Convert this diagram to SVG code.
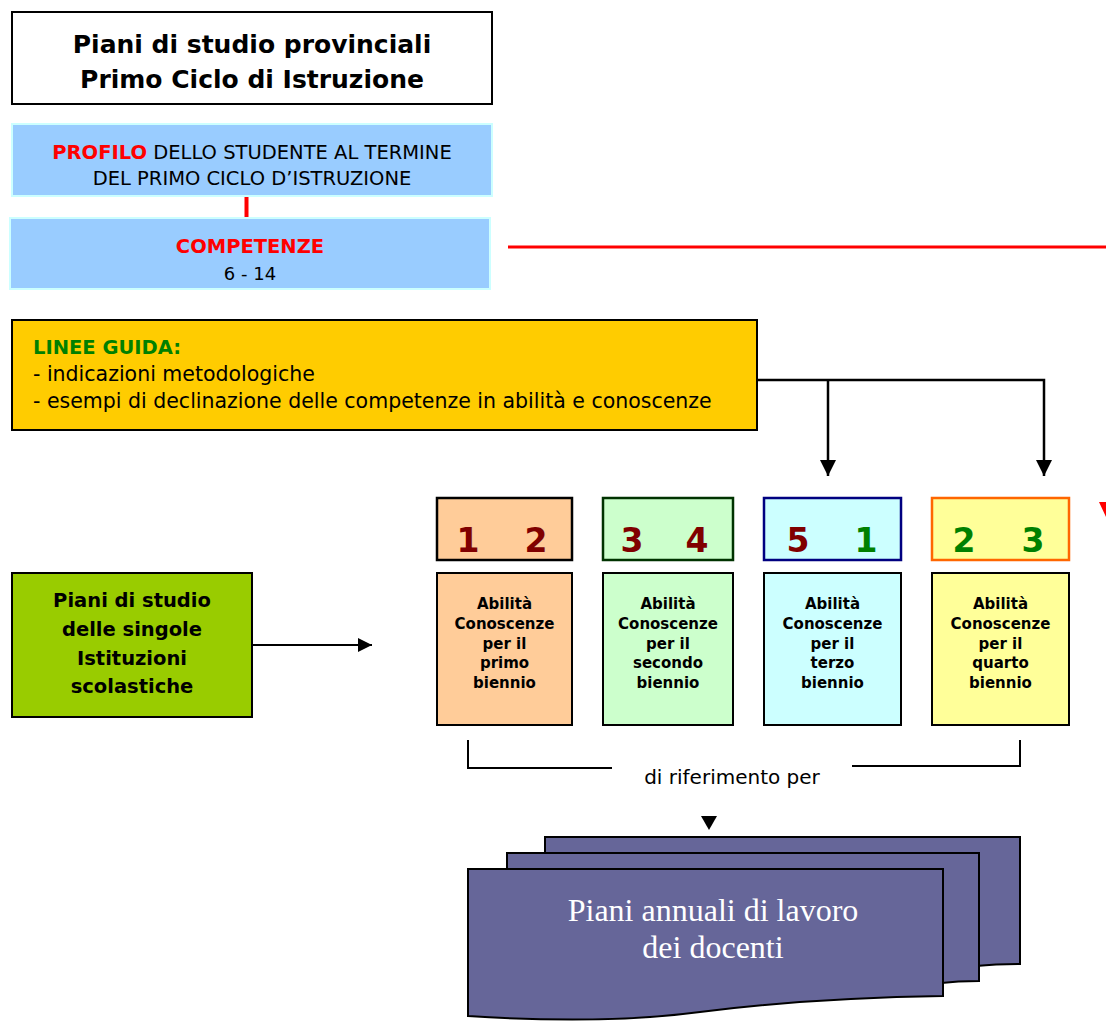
<svg xmlns="http://www.w3.org/2000/svg" width="1106" height="1022" viewBox="0 0 1106 1022">
<defs>
<style>
.g{font-family:"DejaVu Sans","Liberation Sans",sans-serif}
.b{font-weight:bold}
.c{text-anchor:middle}
.ab{font-family:"DejaVu Sans",sans-serif;font-weight:bold;font-size:15px;text-anchor:middle;fill:#000}
.num{font-family:"DejaVu Sans",sans-serif;font-weight:bold;font-size:33px;text-anchor:middle}
.ln{fill:none;stroke:#000;stroke-width:2.5}
.doc{fill:#666699;stroke:#000;stroke-width:2}
</style>
<marker id="ah" viewBox="0 0 10 10" refX="10" refY="5" markerWidth="6.5" markerHeight="6.5" markerUnits="strokeWidth" orient="auto">
<path d="M0,0 L10,5 L0,10 Z" fill="#000"/>
</marker>
<marker id="ah2" viewBox="0 0 10 10" refX="10" refY="5" markerWidth="8.5" markerHeight="7" markerUnits="strokeWidth" orient="auto">
<path d="M0,0 L10,5 L0,10 Z" fill="#000"/>
</marker>
</defs>
<rect width="1106" height="1022" fill="#fff"/>

<g id="connectors">
<line x1="246.5" y1="196" x2="246.5" y2="218" stroke="#ff0000" stroke-width="4"/>
<line x1="508" y1="247" x2="1106" y2="247" stroke="#ff0000" stroke-width="3"/>
<polygon points="1099,502 1113,502 1106,517" fill="#ff0000"/>
<polyline class="ln" points="757,380 1044,380 1044,476" marker-end="url(#ah)"/>
<line class="ln" x1="828" y1="380" x2="828" y2="476" marker-end="url(#ah)"/>
<line x1="252" y1="645" x2="372" y2="645" stroke="#000" stroke-width="2" marker-end="url(#ah2)"/>
<polyline fill="none" stroke="#000" stroke-width="2" points="468,740 468,768 612,768"/>
<polyline fill="none" stroke="#000" stroke-width="2" points="852,766 1020,766 1020,740"/>
<polygon points="701,816 717,816 709,830" fill="#000"/>
</g>

<g id="title">
<rect x="12" y="12" width="480" height="92" fill="#fff" stroke="#000" stroke-width="2"/>
<text class="g b c" x="252" y="53" font-size="25">Piani di studio provinciali</text>
<text class="g b c" x="252" y="88" font-size="25">Primo Ciclo di Istruzione</text>
</g>

<g id="profilo">
<rect x="12" y="124" width="480" height="72" fill="#99ccff" stroke="#ccffff" stroke-width="2"/>
<text class="g c" x="252" y="159" font-size="19.5"><tspan font-weight="bold" fill="#ff0000">PROFILO</tspan> DELLO STUDENTE AL TERMINE</text>
<text class="g c" x="252" y="185" font-size="19.5">DEL PRIMO CICLO D’ISTRUZIONE</text>
</g>

<g id="competenze">
<rect x="10" y="218" width="480" height="71" fill="#99ccff" stroke="#ccffff" stroke-width="2"/>
<text class="g b c" x="250" y="253" font-size="19.5" fill="#ff0000">COMPETENZE</text>
<text class="g c" x="250" y="280" font-size="18">6 - 14</text>
</g>

<g id="linee-guida">
<rect x="12" y="320" width="745" height="110" fill="#ffcc00" stroke="#000" stroke-width="2"/>
<text class="g b" x="33" y="354" font-size="19.5" fill="#008000">LINEE GUIDA:</text>
<text class="g" x="33" y="381" font-size="20.5">- indicazioni metodologiche</text>
<text class="g" x="33" y="408" font-size="20.5">- esempi di declinazione delle competenze in abilità e conoscenze</text>
</g>

<g id="piani-istituzioni">
<rect x="12" y="573" width="240" height="144" fill="#99cc00" stroke="#000" stroke-width="2"/>
<text class="g b c" x="132" y="607" font-size="19.5">Piani di studio</text>
<text class="g b c" x="132" y="636" font-size="19.5">delle singole</text>
<text class="g b c" x="132" y="665" font-size="19.5">Istituzioni</text>
<text class="g b c" x="132" y="693" font-size="19.5">scolastiche</text>
</g>

<g id="num-1-2">
<rect x="437" y="498" width="135" height="62" fill="#ffcc99" stroke="#000" stroke-width="2.5"/>
<text class="num" x="468" y="552" fill="#800000">1</text>
<text class="num" x="536" y="552" fill="#800000">2</text>
</g>
<g id="num-3-4">
<rect x="603" y="498" width="130" height="62" fill="#ccffcc" stroke="#003300" stroke-width="2.5"/>
<text class="num" x="632" y="552" fill="#800000">3</text>
<text class="num" x="697" y="552" fill="#800000">4</text>
</g>
<g id="num-5-1">
<rect x="764" y="498" width="137" height="62" fill="#ccffff" stroke="#000080" stroke-width="2.5"/>
<text class="num" x="798" y="552" fill="#800000">5</text>
<text class="num" x="866" y="552" fill="#008000">1</text>
</g>
<g id="num-2-3">
<rect x="932" y="498" width="137" height="62" fill="#ffff99" stroke="#ff6600" stroke-width="2.5"/>
<text class="num" x="964" y="552" fill="#008000">2</text>
<text class="num" x="1033" y="552" fill="#008000">3</text>
</g>

<g id="primo-biennio">
<rect x="437" y="573" width="135" height="152" fill="#ffcc99" stroke="#000" stroke-width="2"/>
<text class="ab" x="504.5" y="609">Abilità</text>
<text class="ab" x="504.5" y="629">Conoscenze</text>
<text class="ab" x="504.5" y="649">per il</text>
<text class="ab" x="504.5" y="668">primo</text>
<text class="ab" x="504.5" y="688">biennio</text>
</g>
<g id="secondo-biennio">
<rect x="603" y="573" width="130" height="152" fill="#ccffcc" stroke="#000" stroke-width="2"/>
<text class="ab" x="668" y="609">Abilità</text>
<text class="ab" x="668" y="629">Conoscenze</text>
<text class="ab" x="668" y="649">per il</text>
<text class="ab" x="668" y="668">secondo</text>
<text class="ab" x="668" y="688">biennio</text>
</g>
<g id="terzo-biennio">
<rect x="764" y="573" width="137" height="152" fill="#ccffff" stroke="#000" stroke-width="2"/>
<text class="ab" x="832.5" y="609">Abilità</text>
<text class="ab" x="832.5" y="629">Conoscenze</text>
<text class="ab" x="832.5" y="649">per il</text>
<text class="ab" x="832.5" y="668">terzo</text>
<text class="ab" x="832.5" y="688">biennio</text>
</g>
<g id="quarto-biennio">
<rect x="932" y="573" width="137" height="152" fill="#ffff99" stroke="#000" stroke-width="2"/>
<text class="ab" x="1000.5" y="609">Abilità</text>
<text class="ab" x="1000.5" y="629">Conoscenze</text>
<text class="ab" x="1000.5" y="649">per il</text>
<text class="ab" x="1000.5" y="668">quarto</text>
<text class="ab" x="1000.5" y="688">biennio</text>
</g>

<g id="label-riferimento">
<text class="g c" x="732" y="784" font-size="20">di riferimento per</text>
</g>

<g id="piani-annuali">
<path class="doc" d="M545,837 H1020 V964 C990,964 965,966 940,972 L545,972 Z"/>
<path class="doc" d="M507,853 H979 V981 C950,981 925,984 900,990 L507,990 Z"/>
<path class="doc" d="M468,869 H943 V996 C860,997 780,1002 700,1012 C640,1020 560,1022 468,1016 Z"/>
<text x="713" y="921" font-family="'Liberation Serif','Times New Roman',serif" font-size="32" fill="#fff" text-anchor="middle">Piani annuali di lavoro</text>
<text x="713" y="958" font-family="'Liberation Serif','Times New Roman',serif" font-size="32" fill="#fff" text-anchor="middle">dei docenti</text>
</g>
</svg>
